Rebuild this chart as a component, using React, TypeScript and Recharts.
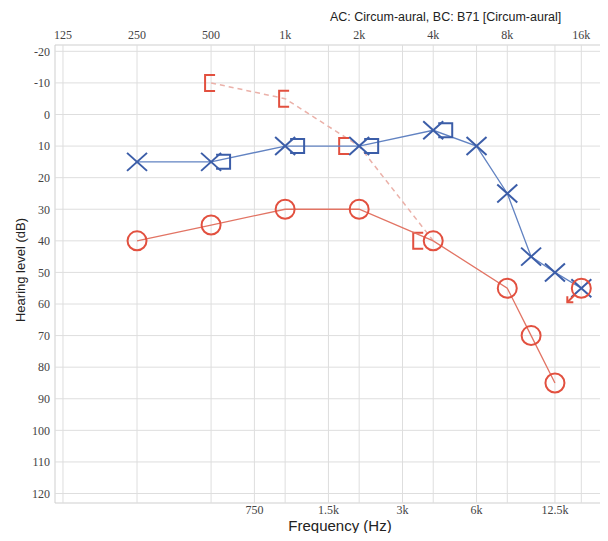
import { ScatterChart, Scatter, XAxis, YAxis, ReferenceLine, ReferenceArea } from "recharts"

// axis ticks
const octaveFreqs = [125, 250, 500, 1000, 2000, 4000, 8000, 16000]
const midFreqs = [750, 1500, 3000, 6000, 12500]
const dbTicks = [-20, -10, 0, 10, 20, 30, 40, 50, 60, 70, 80, 90, 100, 110, 120]

// left ear, air conduction (X) and masked bone conduction (])
const leftAcFreq = [250, 500, 1000, 2000, 4000, 6000, 8000, 10000, 12500, 16000]
const leftAcDb = [15, 15, 10, 10, 5, 10, 25, 45, 50, 55]
const leftBcFreq = [500, 1000, 2000, 4000]
const leftBcDb = [15, 10, 10, 5]

// right ear, air conduction (O) and masked bone conduction ([)
const rightAcFreq = [250, 500, 1000, 2000, 4000, 8000, 10000, 12500]
const rightAcDb = [40, 35, 30, 30, 40, 55, 70, 85]
const rightNoRespFreq = [16000]
const rightNoRespDb = [55]
const rightBcFreq = [500, 1000, 2000, 4000]
const rightBcDb = [-10, -5, 10, 40]

const W = 600
const H = 525
const X_DOMAIN: [number, number] = [116, 19600]
const Y_DOMAIN: [number, number] = [-22, 123]

const BLUE = "#3b5da8"
const BLUE_LINE = "#6283c2"
const RED = "#e2503f"
const RED_LINE = "#e27464"
const RED_DASH = "#ebb1a9"
const GRID = "#dedede"

const toPoints = (freq: number[], db: number[]) => freq.map((f, i) => ({ f, db: db[i] }))

const leftAc = toPoints(leftAcFreq, leftAcDb)
const leftBc = toPoints(leftBcFreq, leftBcDb)
const rightAc = toPoints(rightAcFreq, rightAcDb)
const rightNoResp = toPoints(rightNoRespFreq, rightNoRespDb)
const rightBc = toPoints(rightBcFreq, rightBcDb)

// bone symbols are nudged sideways when they sit on an air symbol
const overlapsAc = (f: number, db: number) =>
  leftAc.some((p) => p.f === f && p.db === db) || rightAc.some((p) => p.f === f && p.db === db)

const fmtFreq = (f: number) => (f >= 1000 ? `${f / 1000}k` : `${f}`)

const tickStyle = { fontSize: 12, fill: "#444", fontFamily: "'Liberation Serif', 'DejaVu Serif', serif" }

function CrossMark({ cx, cy }: any) {
  const s = 9
  return (
    <g stroke={BLUE} strokeWidth={2} fill="none">
      <line x1={cx - s - 1} y1={cy - s} x2={cx + s + 1} y2={cy + s} />
      <line x1={cx - s - 1} y1={cy + s} x2={cx + s + 1} y2={cy - s} />
    </g>
  )
}

function CircleMark({ cx, cy }: any) {
  return <circle cx={cx} cy={cy} r={9.5} stroke={RED} strokeWidth={2} fill="none" />
}

function NoRespMark({ cx, cy }: any) {
  return (
    <g stroke={RED} strokeWidth={2} fill="none">
      <circle cx={cx} cy={cy} r={9.5} />
      <line x1={cx - 7} y1={cy + 7} x2={cx - 14} y2={cy + 14} />
      <polyline points={`${cx - 14},${cy + 8} ${cx - 14},${cy + 14} ${cx - 8},${cy + 14}`} />
    </g>
  )
}

function LeftBracket({ cx, cy, payload }: any) {
  const off = overlapsAc(payload.f, payload.db) ? 5 : -5
  const x0 = cx + off
  return (
    <polyline
      points={`${x0},${cy - 7} ${x0 + 14},${cy - 7} ${x0 + 14},${cy + 7} ${x0},${cy + 7}`}
      stroke={BLUE}
      strokeWidth={2}
      fill="none"
    />
  )
}

function RightBracket({ cx, cy, payload }: any) {
  const off = overlapsAc(payload.f, payload.db) ? -14 : 0
  const x0 = cx + off
  return (
    <polyline
      points={`${x0 + 4},${cy - 8} ${x0 - 6},${cy - 8} ${x0 - 6},${cy + 8} ${x0 + 4},${cy + 8}`}
      stroke={RED}
      strokeWidth={2}
      fill="none"
    />
  )
}

export default function App() {
  const gridFreqs = [...octaveFreqs, ...midFreqs]
  return (
    <div style={{ position: "relative", width: W, height: H, fontFamily: "'Liberation Sans', Arial, sans-serif" }}>
      <div style={{ position: "absolute", left: 322, top: 2, fontSize: 12.5, color: "#222", whiteSpace: "nowrap" }}>
        AC: Circum-aural, BC: B71 [Circum-aural]
      </div>
      <div
        style={{
          position: "absolute",
          left: 12,
          top: 262,
          fontSize: 13,
          color: "#222",
          whiteSpace: "nowrap",
          transform: "translate(-50%, -50%) rotate(-90deg)",
        }}
      >
        Hearing level (dB)
      </div>
      <div
        style={{
          position: "absolute",
          left: 332,
          top: 517,
          fontSize: 15,
          color: "#222",
          whiteSpace: "nowrap",
          transform: "translate(-50%, -50%)",
        }}
      >
        Frequency (Hz)
      </div>
      <ScatterChart width={W} height={H} margin={{ top: 12, right: 5, bottom: 10, left: 17 }}>
        <XAxis
          xAxisId="top"
          orientation="top"
          type="number"
          scale="log"
          dataKey="f"
          domain={X_DOMAIN}
          allowDataOverflow
          ticks={octaveFreqs}
          tickFormatter={fmtFreq}
          interval={0}
          height={25}
          tickLine={false}
          axisLine={false}
          tickSize={4}
          tickMargin={2}
          tick={tickStyle}
        />
        <XAxis
          xAxisId="bottom"
          orientation="bottom"
          type="number"
          scale="log"
          dataKey="f"
          domain={X_DOMAIN}
          allowDataOverflow
          ticks={midFreqs}
          tickFormatter={fmtFreq}
          interval={0}
          height={20}
          tickLine={false}
          axisLine={false}
          tickSize={0}
          tickMargin={2}
          tick={tickStyle}
        />
        <YAxis
          type="number"
          dataKey="db"
          reversed
          domain={Y_DOMAIN}
          allowDataOverflow
          ticks={dbTicks}
          interval={0}
          width={30}
          tickLine={false}
          axisLine={false}
          tickSize={3}
          tickMargin={2}
          tick={tickStyle}
        />
        {gridFreqs.map((f) => (
          <ReferenceLine key={`v${f}`} xAxisId="top" x={f} stroke={GRID} strokeWidth={1} />
        ))}
        {dbTicks.map((d) => (
          <ReferenceLine key={`h${d}`} xAxisId="top" y={d} stroke={GRID} strokeWidth={1} />
        ))}
        <ReferenceArea
          xAxisId="top"
          x1={X_DOMAIN[0]}
          x2={X_DOMAIN[1]}
          y1={Y_DOMAIN[0]}
          y2={Y_DOMAIN[1]}
          fill="none"
          stroke="#cfcfcf"
          fillOpacity={0}
        />
        <Scatter
          xAxisId="top"
          data={rightBc}
          line={{ stroke: RED_DASH, strokeWidth: 1.5, strokeDasharray: "5 4" }}
          shape={(p: any) => <RightBracket {...p} />}
          isAnimationActive={false}
        />
        <Scatter
          xAxisId="top"
          data={rightAc}
          line={{ stroke: RED_LINE, strokeWidth: 1.3 }}
          shape={(p: any) => <CircleMark {...p} />}
          isAnimationActive={false}
        />
        <Scatter
          xAxisId="top"
          data={leftAc}
          line={{ stroke: BLUE_LINE, strokeWidth: 1.3 }}
          shape={(p: any) => <CrossMark {...p} />}
          isAnimationActive={false}
        />
        <Scatter
          xAxisId="top"
          data={leftBc}
          shape={(p: any) => <LeftBracket {...p} />}
          isAnimationActive={false}
        />
        <Scatter
          xAxisId="top"
          data={rightNoResp}
          shape={(p: any) => <NoRespMark {...p} />}
          isAnimationActive={false}
        />
      </ScatterChart>
    </div>
  )
}
